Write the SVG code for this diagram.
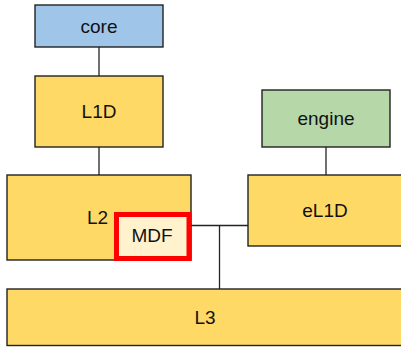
<svg xmlns="http://www.w3.org/2000/svg" width="401" height="349" viewBox="0 0 401 349">
<style>
.n{stroke:#222;stroke-width:1.4}
.y{fill:#FFD966}
.t{font-family:"Liberation Sans",Arial,sans-serif;font-size:19px;fill:#111;text-anchor:middle}
.c{stroke:#222;stroke-width:1.3;fill:none}
</style>
<rect width="401" height="349" fill="#fff"/>
<g id="connectors">
<line class="c" x1="99" y1="47" x2="99" y2="76"/>
<line class="c" x1="99" y1="147" x2="99" y2="175"/>
<line class="c" x1="326" y1="147" x2="326" y2="175"/>
<line class="c" x1="191" y1="225.5" x2="248" y2="225.5"/>
<line class="c" x1="219.5" y1="225.5" x2="219.5" y2="289"/>
</g>
<g id="core">
<rect class="n" x="35" y="5" width="128" height="42" fill="#9FC5E8"/>
<text class="t" x="99" y="33">core</text>
</g>
<g id="L1D">
<rect class="n y" x="35" y="76" width="128" height="71"/>
<text class="t" x="99" y="118">L1D</text>
</g>
<g id="L2">
<rect class="n y" x="7" y="175" width="184" height="85"/>
<text class="t" x="97.5" y="224">L2</text>
</g>
<g id="MDF">
<rect x="116.5" y="214.5" width="72.5" height="44" fill="#FFF2CC" stroke="#FF0000" stroke-width="5"/>
<text class="t" x="152" y="242">MDF</text>
</g>
<g id="engine">
<rect class="n" x="262" y="90" width="128" height="57" fill="#B6D7A8"/>
<text class="t" x="326" y="125">engine</text>
</g>
<g id="eL1D">
<rect class="n y" x="248" y="175" width="156" height="71"/>
<text class="t" x="325" y="217">eL1D</text>
</g>
<g id="L3">
<rect class="n y" x="7" y="289" width="397" height="56.5"/>
<text class="t" x="205" y="323.5">L3</text>
</g>
</svg>
